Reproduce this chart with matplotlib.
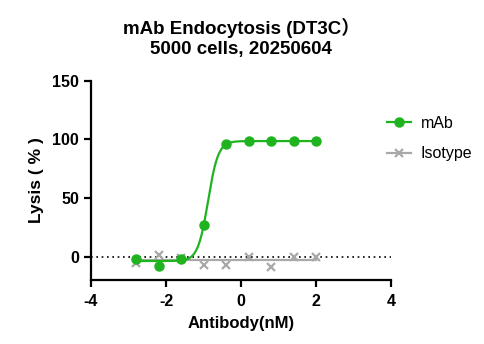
import numpy as np
import matplotlib
matplotlib.use("Agg")
import matplotlib.pyplot as plt

plt.rcParams['font.family'] = ['Liberation Sans', 'Noto Sans CJK SC', 'DejaVu Sans']
plt.rcParams['axes.unicode_minus'] = False

# log10 antibody concentration (nM)
log_conc = [-2.8, -2.2, -1.6, -1.0, -0.4, 0.2, 0.8, 1.4, 2.0]
mab = [-2.0, -8.0, -2.0, 27.0, 96.5, 98.5, 98.5, 98.5, 98.5]
isotype = [-5.5, 1.0, -1.0, -7.0, -7.0, -0.5, -9.0, 0.0, 0.0]

# 4PL fit params (bottom, top, logEC50, hill)
mab_fit = (-3.8, 98.6, -0.88, 3.2)
iso_fit_level = -2.8

green = '#1fb41f'
grey = '#a9a9a9'


def four_pl(x, bottom, top, logec50, hill):
    return bottom + (top - bottom) / (1 + 10 ** ((logec50 - x) * hill))


fig = plt.figure(figsize=(4.84, 3.44), dpi=100)
ax = fig.add_axes([0.188, 0.186, 0.62, 0.579])

xs = np.linspace(log_conc[0], log_conc[-1], 300)
ax.axhline(0, color='black', linestyle=(0, (1, 2.2)), linewidth=1.2, zorder=1)

ax.plot(xs, np.full_like(xs, iso_fit_level), color=grey, linewidth=1.6, zorder=2)
ax.plot(log_conc, isotype, linestyle='none', marker='x', color=grey,
        markersize=6, markeredgewidth=1.6, zorder=3)
ax.plot([], [], color=grey, marker='x', markersize=6, markeredgewidth=1.6,
        linewidth=1.6, label='Isotype')

ax.plot(xs, four_pl(xs, *mab_fit), color=green, linewidth=1.6, zorder=4)
ax.plot(log_conc, mab, linestyle='none', marker='o', color=green,
        markersize=6.5, zorder=5)
ax.plot([], [], color=green, marker='o', markersize=6.5, linewidth=1.6, label='mAb')

ax.set_xlim(-4, 4)
ax.set_ylim(-20, 150)
ax.set_xticks([-4, -2, 0, 2, 4])
ax.set_yticks([0, 50, 100, 150])
ax.spines['top'].set_visible(False)
ax.spines['right'].set_visible(False)
for s in ['left', 'bottom']:
    ax.spines[s].set_linewidth(1.6)
ax.tick_params(width=1.6, length=5, labelsize=11.5)
ax.tick_params(axis='x', pad=5)
for lab in ax.get_xticklabels() + ax.get_yticklabels():
    lab.set_fontweight('bold')

ax.set_xlabel('Antibody(nM)', fontsize=12, fontweight='bold', labelpad=5)
ax.set_ylabel('Lysis ( % )', fontsize=12.5, fontweight='bold', labelpad=6)
ax.set_title('mAb Endocytosis (DT3C）\n5000 cells, 20250604',
             fontsize=13.5, fontweight='bold', pad=19, linespacing=1.25)

handles, labels = ax.get_legend_handles_labels()
ax.legend(handles[::-1], labels[::-1], loc='upper left', bbox_to_anchor=(0.95, 0.88),
          frameon=False, fontsize=11.5, handlelength=1.5, handletextpad=0.6,
          labelspacing=0.95, borderaxespad=0.3)

fig.savefig('out.png', dpi=100)
